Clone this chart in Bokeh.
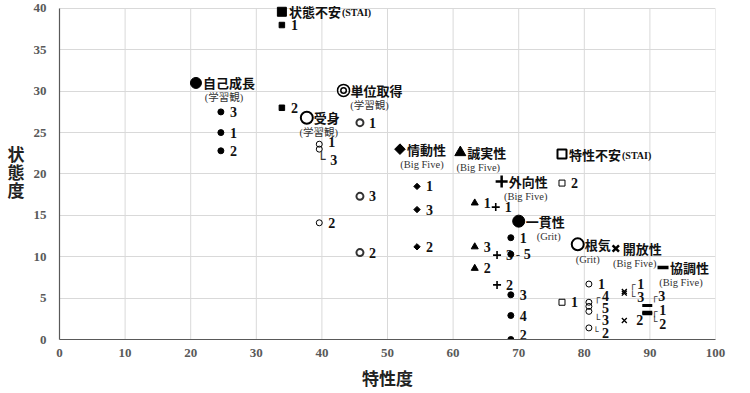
from bokeh.plotting import figure
from bokeh.models import Range1d, FixedTicker, ColumnDataSource
from bokeh.core.properties import value
from bokeh.embed import file_html
from bokeh.resources import INLINE

# ---------------- data ----------------
x_ticks = [0, 10, 20, 30, 40, 50, 60, 70, 80, 90, 100]
y_ticks = [0, 5, 10, 15, 20, 25, 30, 35, 40]
x_title = "特性度"
y_title = "状態度"

# construct headers placed inside the chart
hdr_key = ["state", "trait", "growth", "credit", "passive", "emot", "consc",
           "extra", "consist", "persev", "open", "agree"]
hdr_name = ["状態不安", "特性不安", "自己成長", "単位取得", "受身", "情動性", "誠実性",
            "外向性", "一貫性", "根気", "開放性", "協調性"]
hdr_sub = ["(STAI)", "(STAI)", "(学習観)", "(学習観)", "(学習観)", "(Big Five)", "(Big Five)",
           "(Big Five)", "(Grit)", "(Grit)", "(Big Five)", "(Big Five)"]
hdr_x = [33.9, 76.6, 20.8, 43.3, 37.7, 51.9, 61.1, 67.4, 70.0, 79.0, 84.8, 92.0]
hdr_y = [39.6, 22.4, 31.0, 30.1, 26.8, 23.0, 22.6, 19.1, 14.3, 11.5, 11.0, 8.7]

# numbered points of each construct
state_x = [33.9, 33.9]
state_y = [38.0, 28.0]
state_n = ["1", "2"]

trait_x = [76.6, 76.6]
trait_y = [18.9, 4.5]
trait_n = ["2", "1"]

growth_x = [24.6, 24.6, 24.6]
growth_y = [27.5, 25.0, 22.8]
growth_n = ["3", "1", "2"]

credit_x = [45.8, 45.8, 45.8]
credit_y = [26.2, 17.3, 10.5]
credit_n = ["1", "3", "2"]

passive_x = [39.6, 39.6, 39.6]
passive_y = [23.6, 23.0, 14.1]
passive_n = ["1", "3", "2"]

emot_x = [54.5, 54.5, 54.5]
emot_y = [18.5, 15.7, 11.2]
emot_n = ["1", "3", "2"]

consc_x = [63.3, 63.3, 63.3]
consc_y = [16.5, 11.2, 8.6]
consc_n = ["1", "3", "2"]

extra_x = [66.5, 66.7, 66.7]
extra_y = [16.0, 10.2, 6.6]
extra_n = ["1", "3", "2"]

consist_x = [68.8, 68.8, 68.8, 68.8, 68.8]
consist_y = [12.3, 10.3, 5.4, 2.9, 0.0]
consist_n = ["1", "5", "3", "4", "2"]

persev_x = [80.7, 80.7, 80.7, 80.7, 80.7]
persev_y = [6.7, 4.5, 4.0, 3.4, 1.4]
persev_n = ["1", "4", "5", "3", "2"]

open_x = [86.1, 86.1, 86.1]
open_y = [5.8, 5.6, 2.3]
open_n = ["1", "3", "2"]

agree_x = [89.6, 89.6, 89.6]
agree_y = [4.1, 3.3, 3.1]
agree_n = ["3", "1", "2"]

series = {
    "state": (state_x, state_y, state_n),
    "trait": (trait_x, trait_y, trait_n),
    "growth": (growth_x, growth_y, growth_n),
    "credit": (credit_x, credit_y, credit_n),
    "passive": (passive_x, passive_y, passive_n),
    "emot": (emot_x, emot_y, emot_n),
    "consc": (consc_x, consc_y, consc_n),
    "extra": (extra_x, extra_y, extra_n),
    "consist": (consist_x, consist_y, consist_n),
    "persev": (persev_x, persev_y, persev_n),
    "open": (open_x, open_y, open_n),
    "agree": (agree_x, agree_y, agree_n),
}

# ---------------- styles ----------------
# (marker, big size, small size, filled, big line width, small line width, angle)
mstyle = {
    "state":   ("square", 9, 5.5, True, 1, 1, 0),
    "trait":   ("square", 9, 6, False, 2, 1, 0),
    "growth":  ("circle", 11, 6, True, 1, 1, 0),
    "credit":  ("circle", 12, 7, False, 1.5, 2, 0),
    "passive": ("circle", 12, 6, False, 2, 1, 0),
    "emot":    ("square", 7.5, 4.5, True, 1, 1, 0.785398),
    "consc":   ("triangle", 11, 7, True, 1, 1, 0),
    "extra":   ("cross", 12, 8, False, 2.5, 1.6, 0),
    "consist": ("circle", 12, 6, True, 1, 1, 0),
    "persev":  ("circle", 12, 6, False, 2, 1, 0),
    "open":    ("x", 9, 7, False, 2.5, 1.3, 0),
    "agree":   ("dash", 11, 10, False, 3.5, 3, 0),
}
sub_dx = {"growth": 28, "credit": 26, "passive": 12, "emot": 22, "consc": 18,
          "extra": 24, "consist": 30, "persev": 10, "open": 19, "agree": 18}
lab_off = {
    "passive": [(9, -2), (11, 11), (9, 0)],
    "persev": [(9, 0), (13, -6), (13, 2), (13, 9), (13, 5)],
    "open": [(13, -8), (13, 4), (12, 0)],
    "agree": [(11, -10), (12, -2), (12, 10)],
    "consist": [(9, 0), (13, 0), (9, 0), (9, 0), (9, -5)],
}
conn = [
    ("passive", 1, "└", 2, 10, 14),
    ("persev", 1, "┌", 8, -5, 10),
    ("persev", 3, "└", 8, 8, 10),
    ("persev", 4, "└", 7, 4, 9),
    ("open", 0, "┌", 8, -7, 10),
    ("open", 1, "└", 8, 3, 10),
    ("agree", 0, "┌", 7, -9, 10),
    ("agree", 1, "┌", 7, -1, 10),
    ("agree", 2, "└", 7, 8, 10),
    ("consist", 1, "-", 7, 0, 12),
]

CJK = "Noto Sans CJK JP"
SERIF = "Liberation Serif"
INK = "#111111"

p = figure(width=738, height=392, x_range=Range1d(0, 100), y_range=Range1d(0, 40.6),
           output_backend="svg", toolbar_location=None,
           min_border_left=59, min_border_right=23, min_border_top=3, min_border_bottom=30)
p.outline_line_color = None
p.background_fill_color = "white"
p.xaxis.ticker = FixedTicker(ticks=x_ticks)
p.yaxis.ticker = FixedTicker(ticks=y_ticks)
p.yaxis.bounds = (0, 40)
p.xgrid.visible = False
p.ygrid.grid_line_color = "#d9d9d9"

for ax in (p.xaxis[0], p.yaxis[0]):
    ax.axis_line_color = "#595959"
    ax.axis_line_width = 1.2
    ax.major_tick_line_color = None
    ax.minor_tick_line_color = None
    ax.major_tick_out = 0
    ax.major_tick_in = 0
    ax.minor_tick_out = 0
    ax.major_label_text_font = SERIF
    ax.major_label_text_font_style = "bold"
    ax.major_label_text_font_size = "13px"
    ax.major_label_text_color = "#595959"
    ax.axis_label_text_font = CJK
    ax.axis_label_text_font_style = "bold"
    ax.axis_label_text_font_size = "17px"
    ax.axis_label_text_color = "#222222"
p.xaxis.major_label_standoff = 9
p.yaxis.major_label_standoff = 13
p.xaxis.axis_label = x_title
p.xaxis.axis_label_standoff = 5

yax = p.yaxis[0]
if "axis_label_orientation" in yax.properties():
    yax.axis_label = "\n".join(y_title)
    yax.axis_label_orientation = "horizontal"
    yax.axis_label_text_line_height = 0.72
else:
    yax.axis_label = y_title
yax.axis_label_standoff = 6

# vertical grid lines from the tick list
p.segment(x0=x_ticks, y0=[y_ticks[0]] * len(x_ticks), x1=x_ticks, y1=[y_ticks[-1]] * len(x_ticks),
          line_color="#d9d9d9", line_width=1)


def draw_marker(key, xs, ys, big):
    m, bs, ss, filled, blw, slw, ang = mstyle[key]
    size = bs if big else ss
    lw = blw if big else slw
    kw = dict(marker=m, size=size, angle=ang, line_color="black", line_width=lw)
    if filled:
        kw.update(fill_color="black")
    else:
        kw.update(fill_color=None)
    if key == "credit" and not big:
        kw.update(line_color="#333333")
    p.scatter(xs, ys, **kw)
    if key == "credit" and big:
        p.scatter(xs, ys, marker="circle", size=5.5, fill_color=None, line_color="black", line_width=1.5)


# numbered points and their labels
for key, (xs, ys, ns) in series.items():
    draw_marker(key, xs, ys, False)
    offs = lab_off.get(key, [(9, 0)] * len(xs))
    src = ColumnDataSource(dict(x=xs, y=ys, t=ns, dx=[o[0] for o in offs], dy=[o[1] for o in offs]))
    p.text(x="x", y="y", text="t", x_offset="dx", y_offset="dy", source=src,
           text_font=value(SERIF), text_font_style="bold", text_font_size="14px",
           text_color=INK, text_align="left", text_baseline="middle")

# connectors between overlapping points and their numbers
for key, i, ch, dx, dy, fs in conn:
    xs, ys, ns = series[key]
    p.text(x=[xs[i]], y=[ys[i]], text=[ch], x_offset=dx, y_offset=dy,
           text_font=value("DejaVu Sans"), text_font_size=f"{fs}px", text_color="#333333",
           text_align="center", text_baseline="middle")

# header markers and names
for j, key in enumerate(hdr_key):
    draw_marker(key, [hdr_x[j]], [hdr_y[j]], True)
    p.text(x=[hdr_x[j]], y=[hdr_y[j]], text=[hdr_name[j]], x_offset=7, y_offset=0,
           text_font=value(CJK), text_font_style="bold", text_font_size="13px",
           text_color=INK, text_align="left", text_baseline="middle")
    if hdr_sub[j] == "(STAI)":
        p.text(x=[hdr_x[j]], y=[hdr_y[j]], text=[hdr_sub[j]], x_offset=7 + 13 * len(hdr_name[j]) + 1,
               y_offset=1, text_font=value(SERIF), text_font_style="bold", text_font_size="10px",
               text_color=INK, text_align="left", text_baseline="middle")
    else:
        p.text(x=[hdr_x[j]], y=[hdr_y[j]], text=[hdr_sub[j]], x_offset=sub_dx[key], y_offset=15,
               text_font=value(SERIF + ", " + CJK), text_font_size="10.5px",
               text_color="#333333", text_align="center", text_baseline="middle")

open("out.html", "w").write(file_html(p, INLINE))
